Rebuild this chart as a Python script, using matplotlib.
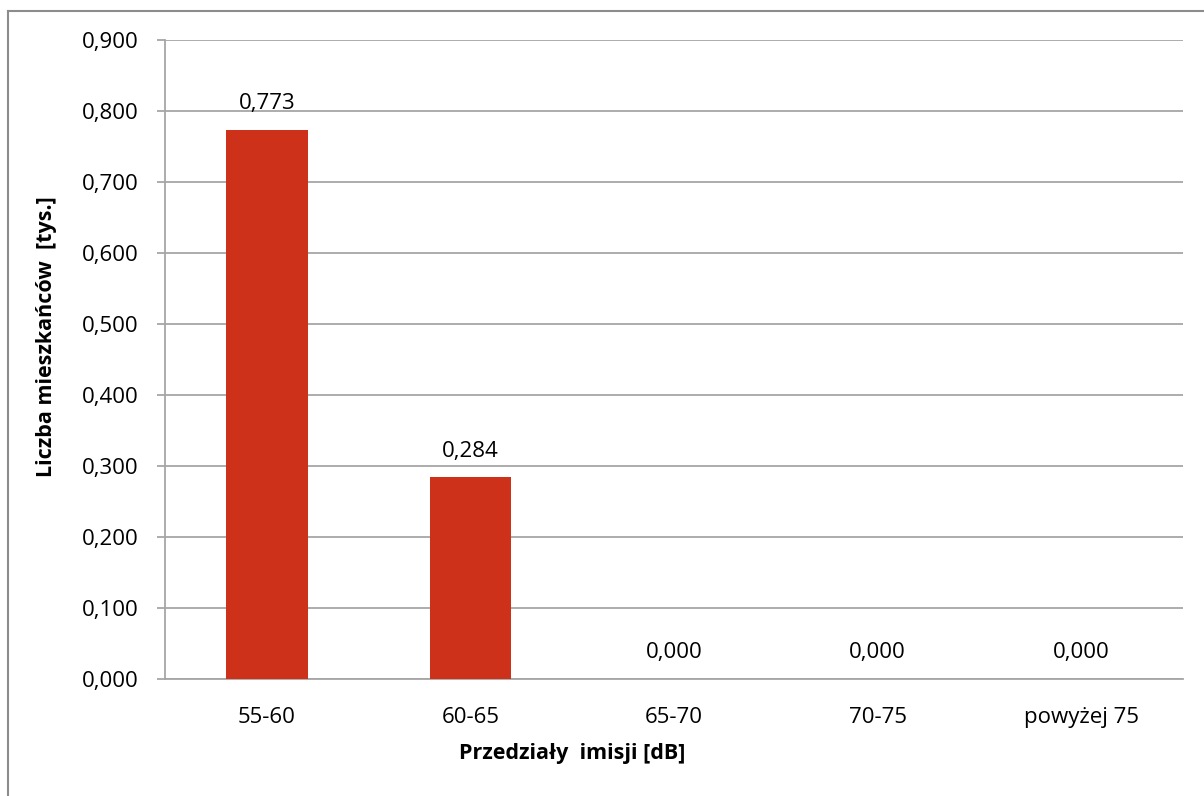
import matplotlib.pyplot as plt
from matplotlib.lines import Line2D

categories = ["55-60", "60-65", "65-70", "70-75", "powyżej 75"]
values = [0.773, 0.284, 0.0, 0.0, 0.0]
yticks = [0.0, 0.1, 0.2, 0.3, 0.4, 0.5, 0.6, 0.7, 0.8, 0.9]

W, H = 1204, 796
plt.rcParams['font.family'] = ['Open Sans', 'DejaVu Sans']

fig = plt.figure(figsize=(W / 100, H / 100), dpi=100)
ax = fig.add_axes([165 / W, 1 - 679 / H, (1183 - 165) / W, (679 - 40) / H])

x = list(range(len(categories)))
ax.bar(x, values, width=0.4, color="#CD3119", zorder=3)

for xi, v in zip(x, values):
    ax.annotate(f"{v:.3f}".replace(".", ","), (xi, v), xytext=(0, 15),
                textcoords="offset points", ha="center", va="baseline", fontsize=16)

ax.set_xlim(-0.5, len(categories) - 0.5)
ax.set_ylim(0, 0.9)
ax.set_yticks(yticks)
ax.set_yticklabels([f"{t:.3f}".replace(".", ",") for t in yticks], fontsize=16)
ax.set_xticks(x)
ax.set_xticklabels(categories, fontsize=16)

ax.grid(axis="y", color="#A6A6A6", linewidth=1.3, zorder=0)
ax.tick_params(axis="y", length=6, width=1.3, color="#A6A6A6", pad=13)
ax.tick_params(axis="x", length=0, pad=20)
for s in ["top", "right"]:
    ax.spines[s].set_visible(False)
for s in ["left", "bottom"]:
    ax.spines[s].set_color("#A6A6A6")
    ax.spines[s].set_linewidth(1.3)

fig.text(572 / W, 1 - 754 / H, "Przedziały  imisji [dB]", ha="center", va="center",
         fontsize=15.5, fontweight="bold")
fig.text(47 / W, 1 - 337 / H, "Liczba mieszkańców  [tys.]", ha="center", va="center",
         rotation=90, fontsize=15.5, fontweight="bold")

# outer chart border (only left and top visible in the picture)
fig.add_artist(Line2D([8 / W, 8 / W], [0, 1 - 11 / H], color="#8C8C8C", linewidth=1.5,
                      transform=fig.transFigure))
fig.add_artist(Line2D([8 / W, 1], [1 - 11 / H, 1 - 11 / H], color="#8C8C8C", linewidth=1.5,
                      transform=fig.transFigure))

fig.savefig("out.png", dpi=100)
